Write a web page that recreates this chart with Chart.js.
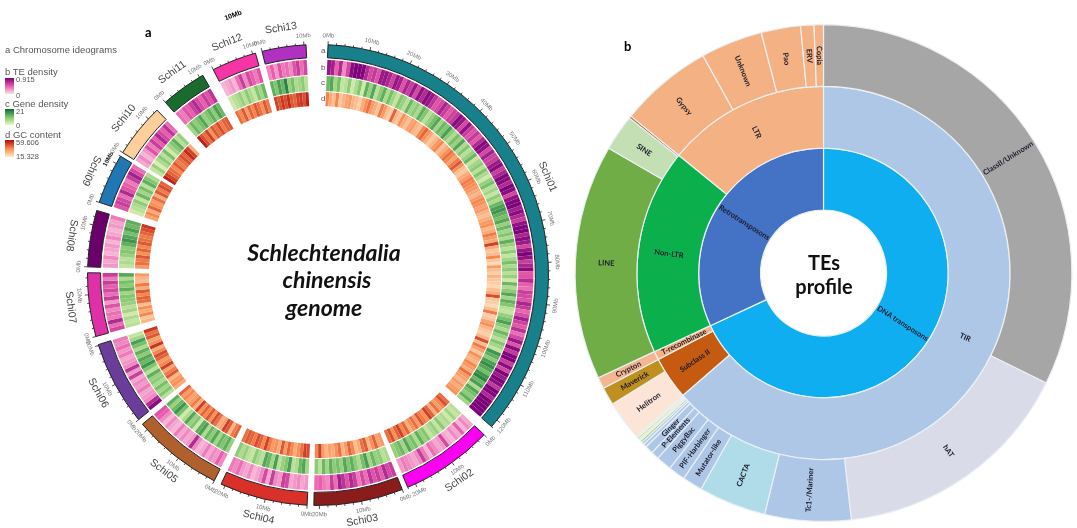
<!DOCTYPE html>
<html>
<head>
<meta charset="utf-8">
<title>Schlechtendalia chinensis genome</title>
<script src="https://cdn.jsdelivr.net/npm/chart.js@4"></script>
<style>
  html, body { margin: 0; background: #fff; overflow: hidden; }
  #page { position: relative; width: 1077px; height: 528px; font-family: "Liberation Sans", sans-serif; }
  canvas { position: absolute; top: 0; filter: blur(0.35px); }
  .t { position: absolute; white-space: nowrap; line-height: 1; transform: translateY(-50%); }
  .leg { font-size: 9.5px; color: #555; }
  .val { font-size: 7.5px; color: #555; }
  .title { font-family: Lato, sans-serif; font-weight: 700; color: #111; text-align: center; transform: translate(-50%, -50%); }
  .sw { position: absolute; left: 5px; width: 9px; }
</style>
</head>
<body>
<div id="page">
  <canvas id="circos" width="575" height="528" style="left:0"></canvas>
  <canvas id="sunburst" width="522" height="528" style="left:555px"></canvas>

  <div class="t leg" style="left:5px;top:50px">a Chromosome ideograms</div>
  <div class="t leg" style="left:5px;top:72px">b TE density</div>
  <div class="sw" style="top:78px;height:16px;background:linear-gradient(#7a0078,#e85cab,#fde0ea)"></div>
  <div class="t val" style="left:16px;top:80px">0.915</div>
  <div class="t val" style="left:16px;top:96px">0</div>
  <div class="t leg" style="left:5px;top:104px">c Gene density</div>
  <div class="sw" style="top:109px;height:16px;background:linear-gradient(#0a6b33,#7cc46c,#f0f8c0)"></div>
  <div class="t val" style="left:16px;top:112px">21</div>
  <div class="t val" style="left:16px;top:126px">0</div>
  <div class="t leg" style="left:5px;top:135px">d GC content</div>
  <div class="sw" style="top:140px;height:17px;background:linear-gradient(#b00a0a,#f88a50,#ffeccd)"></div>
  <div class="t val" style="left:16px;top:143px">59.606</div>
  <div class="t val" style="left:16px;top:157px">15.328</div>

  <div class="t" style="left:145px;top:32px;font:700 13px Lato">a</div>
  <div class="t" style="left:624px;top:46px;font:700 13px Lato">b</div>
  <div class="t" style="left:224px;top:15px;font:700 7px 'Liberation Sans';transform:translateY(-50%) rotate(-20deg)">10Mb</div>

  <div class="t" style="left:321px;top:51px;font-size:8px;color:#555">a</div>
  <div class="t" style="left:321px;top:68px;font-size:8px;color:#555">b</div>
  <div class="t" style="left:321px;top:83px;font-size:8px;color:#555">c</div>
  <div class="t" style="left:321px;top:99px;font-size:8px;color:#555">d</div>

  <div class="t title" style="left:324px;top:252px;font-size:23px;font-style:italic">Schlechtendalia</div>
  <div class="t title" style="left:327px;top:279px;font-size:23px;font-style:italic">chinensis</div>
  <div class="t title" style="left:324px;top:307px;font-size:23px;font-style:italic">genome</div>
  <div class="t title" style="left:824px;top:262px;font-size:20px">TEs</div>
  <div class="t title" style="left:824px;top:286px;font-size:20px">profile</div>
</div>

<script>
// left panel: chromosome sizes and the space behind each one, in Mb
const chromNames = ['Schi01','Schi02','Schi03','Schi04','Schi05','Schi06','Schi07','Schi08','Schi09','Schi10','Schi11','Schi12','Schi13'];
const chromSizes = [122,22,21.3,21,21.7,20.2,15.2,13.5,12,12.9,10.9,10.7,10.5];
const chromGaps = [2.6,1.4,1.6,1.8,1.4,2,1.4,2,1,2.7,2.8,1.6,5.2];
const chromColors = ['#17808a','#fb00f0','#8b1c1c','#d9302a','#b0602c','#6a3d9a','#e030a8','#6a006a','#1f78b4','#fdcf9b','#1a6b2e','#f535a5','#b030c0'];

// TE density per bin
const te01 = [.8,.75,.45,.7,.3,.55,.85,.9,.9,.88,.7,.55,.62,.5,.78,.8,.72,.58,.8,.75,.5,.72,.6,.78,.55,.82,.7,.85,.8,.65,.5,.55,.72,.6,.48,.58,.62,.85,.8,.55,.82,.6,.5,.62,.48,.7,.86,.82,.55,.75,.58,.6,.78,.85,.6,.72,.88,.85,.7,.9,.85,.55,.82,.88,.9,.75,.85,.7,.6,.82,.88,.9,.72,.85,.78,.55,.8,.9,.82,.6,.72,.85,.48,.5,.68,.45,.4,.6,.55,.5,.72,.62,.42,.52,.75,.58,.48,.66,.4,.55,.78,.5,.85,.62,.88,.9,.6,.85,.55,.9,.78,.9,.85,.62,.9,.88,.7,.91,.91,.91,.91,.9];
const te02 = [.2,.3,.15,.45,.2,.3,.15,.2,.55,.25,.2,.3,.4,.15,.35,.6,.3,.2,.25,.3,.35,.25];
const te03 = [.6,.55,.7,.45,.6,.5,.65,.4,.55,.35,.6,.7,.5,.65,.75,.4,.6,.3,.35,.45,.4];
const te04 = [.25,.2,.3,.25,.2,.55,.6,.25,.3,.6,.2,.55,.3,.2,.15,.3,.2,.25,.4,.3,.35];
const te05 = [.3,.45,.25,.3,.2,.35,.2,.15,.3,.7,.25,.2,.3,.2,.35,.15,.2,.3,.15,.3,.45,.5];
const te06 = [.85,.7,.3,.25,.2,.35,.25,.3,.2,.6,.25,.65,.3,.25,.2,.35,.25,.4,.3,.35];
const te07 = [.55,.4,.7,.35,.4,.3,.5,.25,.6,.4,.55,.45,.6,.35,.6];
const te08 = [.25,.2,.3,.15,.2,.25,.15,.3,.2,.15,.25,.2,.35];
const te09 = [.5,.6,.55,.4,.7,.5,.45,.35,.6,.75,.55,.4];
const te10 = [.2,.3,.15,.25,.5,.35,.6,.45,.7,.55,.45,.65,.4];
const te11 = [.4,.35,.5,.45,.6,.7,.55,.45,.6,.5,.65];
const te12 = [.15,.2,.25,.15,.4,.6,.3,.55,.45,.35,.5];
const te13 = [.3,.45,.25,.5,.35,.4,.3,.5,.6,.4,.55];

// gene density per bin
const gene01 = [12,14,7,11,4,5,9,3,6,10,3,13,8,14,5,9,13,6,11,7,4,10,8,5,12,7,9,6,13,10,5,8,11,14,7,12,10,15,9,6,11,8,14,6,10,5,8,12,4,7,9,5,10,6,3,8,11,5,7,4,9,6,12,15,16,13,11,14,8,12,7,10,6,13,8,5,9,4,7,11,6,9,5,8,3,12,6,9,14,7,13,10,5,4,8,11,15,9,6,12,8,5,10,7,4,16,13,9,15,17,14,11,16,18,12,15,6,14,11,9,13,7];
const gene02 = [5,4,7,3,6,5,9,4,8,6,4,10,8,13,6,11,9,14,7,12,10,8];
const gene03 = [6,5,9,8,12,7,15,11,6,9,13,10,14,8,11,9,13,7,12,5,9];
const gene04 = [7,14,12,6,5,15,10,8,5,15,7,12,14,5,6,9,4,5,8,6,9];
const gene05 = [8,13,10,12,7,14,9,12,6,15,13,3,10,8,14,6,3,11,16,12,8,13];
const gene06 = [5,10,7,11,6,9,8,13,5,10,16,12,14,9,13,6,11,15,7,4];
const gene07 = [5,4,6,3,7,5,8,9,10,7,13,9,11,6,14];
const gene08 = [4,6,5,8,10,9,13,16,14,11,15,12,13];
const gene09 = [3,5,6,9,4,12,7,11,5,13,10,6];
const gene10 = [4,8,2,6,9,5,11,3,7,10,13,5,8];
const gene11 = [7,12,9,11,14,8,10,13,9,15,12];
const gene12 = [3,5,6,8,5,9,6,4,10,7,12];
const gene13 = [13,10,15,12,18,8,11,6,7,9,5];

// GC content per bin
const gc01 = [38,30,26,38,24,28,32,34,28,26,22,30,36,42,34,30,24,40,34,26,22,44,28,24,36,30,26,32,34,28,26,38,44,36,30,24,28,34,38,26,30,36,42,38,32,40,46,36,26,24,30,34,40,38,36,34,30,28,34,38,36,32,34,28,26,30,34,36,28,30,40,34,30,50,30,24,26,38,24,20,34,26,22,28,24,22,20,26,30,48,24,22,20,26,40,22,24,32,36,28,24,22,28,48,26,40,32,24,36,30,28,38,34,30,42,34,32,28,34,30,34,36];
const gc02 = [42,48,38,34,42,30,44,50,36,40,46,34,42,36,30,44,38,50,44,36,48,42];
const gc03 = [34,32,44,36,28,46,42,30,26,38,44,34,28,42,36,30,32,28,34,50,38];
const gc04 = [48,50,42,36,30,38,44,34,46,30,36,34,40,50,38,44,48,40,44,46,42];
const gc05 = [44,40,28,46,50,32,30,42,48,36,46,38,44,36,50,30,40,34,32,38,34,44];
const gc06 = [30,36,34,28,46,40,32,50,38,34,44,48,38,30,52,36,32,46,42,52];
const gc07 = [28,24,38,30,36,26,42,44,38,46,30,40,26,28,34];
const gc08 = [34,42,40,46,36,44,38,46,42,40,44,48,52];
const gc09 = [32,38,30,44,36,34,42,30,46,40,48,44];
const gc10 = [56,50,44,42,38,46,40,42,48,44,54,50,30];
const gc11 = [56,48,42,50,36,46,42,48,40,44,46];
const gc12 = [42,38,46,34,44,38,46,42,36,46,40];
const gc13 = [50,46,52,48,54,46,44,50,52,48,56];

const teBins = [te01,te02,te03,te04,te05,te06,te07,te08,te09,te10,te11,te12,te13];
const geneBins = [gene01,gene02,gene03,gene04,gene05,gene06,gene07,gene08,gene09,gene10,gene11,gene12,gene13];
const gcBins = [gc01,gc02,gc03,gc04,gc05,gc06,gc07,gc08,gc09,gc10,gc11,gc12,gc13];

// right panel, shares in %, ring by ring from the inside out
const classLabels = ['DNA transposons','Retrotransposons'];
const classValues = [68.06,31.94];
const classColors = ['#0eaef0','#4472c4'];

const orderLabels = ['TIR','Subclass II','T-recombinase','Non-LTR','LTR'];
const orderValues = [63.6,3.72,.75,17.8,14.13];
const orderColors = ['#afc7e6','#c55a11','#f4b183','#0bb04d','#f4b183'];

const familyLabels = ['ClassII/Unknown','hAT','Tc1-/Mariner','CACTA','Mutator-like','PIF-Harbinger','PiggyBac','P-Elements','Ginger','','','','','','','Helitron','Maverick','Crypton','LINE','SINE','','Gypsy','Unknown','Pao','ERV','Copia'];
const familyValues = [32.3,15.9,5.6,4.4,1.3,1.1,1,.53,.53,.22,.17,.14,.14,.11,.14,2.56,1.17,.75,15.3,2.36,.14,6.06,4.03,2.56,.86,.61];
const familyColors = ['#a6a6a6','#d9dbe8','#afc7e6','#b0dbe8','#afc7e6','#afc7e6','#afc7e6','#afc7e6','#afc7e6','#afc7e6','#afc7e6','#9bc96b','#f4eeb0','#9bc96b','#f4eeb0','#fce4d6','#bf9020','#f4b591','#70ad47','#c5dfb4','#a0623a','#f4b183','#f4b183','#f4b183','#f4b183','#f4b183'];

const mix = (stops, t) => {
  const p = Math.min(Math.max(t, 0), 1) * (stops.length - 1);
  const i = Math.min(Math.floor(p), stops.length - 2);
  const f = p - i;
  const c = [0,1,2].map(k => Math.round(stops[i][k] + (stops[i + 1][k] - stops[i][k]) * f));
  return `rgb(${c[0]},${c[1]},${c[2]})`;
};
const teColor = v => mix([[253,224,234],[232,92,171],[122,0,120]], v / 0.915);
const geneColor = v => mix([[240,248,192],[124,196,108],[10,107,51]], v / 21);
const gcColor = v => mix([[255,236,205],[248,138,80],[176,10,10]], (v - 15.328) / (59.606 - 15.328));

// one ring: bins of every chromosome with a see-through gap behind each
const trackDataset = (bins, colorOf, weight) => {
  const data = [], colors = [];
  bins.forEach((vals, c) => {
    vals.forEach(v => {
      data.push(chromSizes[c] / vals.length);
      colors.push(colorOf(v));
    });
    data.push(chromGaps[c]);
    colors.push('rgba(0,0,0,0)');
  });
  return { data, backgroundColor: colors, borderWidth: 0, weight };
};
const spacer = weight => ({ data: [1], backgroundColor: 'rgba(0,0,0,0)', borderWidth: 0, weight });

const ideogramData = [], ideogramColors = [], ideogramBorders = [];
chromSizes.forEach((size, c) => {
  ideogramData.push(size, chromGaps[c]);
  ideogramColors.push(chromColors[c], 'rgba(0,0,0,0)');
  ideogramBorders.push(1, 0);
});

const tangent = (deg, flipFrom, flipTo) => {
  const a = ((deg % 360) + 360) % 360;
  return (a > flipFrom && a < flipTo) ? a - 180 : a;
};

const ideogramTicks = {
  id: 'ideogramTicks',
  afterDatasetsDraw(chart) {
    const ctx = chart.ctx;
    const arcs = chart.getDatasetMeta(0).data;
    ctx.save();
    chromSizes.forEach((size, c) => {
      const arc = arcs[c * 2];
      const r = arc.outerRadius;
      for (let mb = 0; mb <= size; mb += 2) {
        const ang = arc.startAngle + (mb / size) * (arc.endAngle - arc.startAngle);
        const major = mb % 10 === 0;
        ctx.strokeStyle = '#222';
        ctx.lineWidth = 0.8;
        ctx.beginPath();
        ctx.moveTo(arc.x + Math.cos(ang) * r, arc.y + Math.sin(ang) * r);
        ctx.lineTo(arc.x + Math.cos(ang) * (r + (major ? 3.5 : 2)), arc.y + Math.sin(ang) * (r + (major ? 3.5 : 2)));
        ctx.stroke();
        if (major) {
          const deg = ang * 180 / Math.PI + 90;
          const boldOne = chromNames[c] === 'Schi09' && mb === 10;
          ctx.save();
          ctx.translate(arc.x + Math.cos(ang) * (r + 9), arc.y + Math.sin(ang) * (r + 9));
          ctx.rotate(tangent(deg, 90, 270) * Math.PI / 180);
          ctx.font = (boldOne ? 'bold ' : '') + '6px "Liberation Sans"';
          ctx.fillStyle = boldOne ? '#111' : '#777';
          ctx.textAlign = 'center';
          ctx.textBaseline = 'middle';
          ctx.fillText(mb + 'Mb', 0, 0);
          ctx.restore();
        }
      }
      const mid = (arc.startAngle + arc.endAngle) / 2;
      const deg = mid * 180 / Math.PI + 90;
      ctx.save();
      ctx.translate(arc.x + Math.cos(mid) * (r + 19), arc.y + Math.sin(mid) * (r + 19));
      ctx.rotate(tangent(deg, 90, 300) * Math.PI / 180);
      ctx.font = '10.5px "Liberation Sans"';
      ctx.fillStyle = '#444';
      ctx.textAlign = 'center';
      ctx.textBaseline = 'middle';
      ctx.fillText(chromNames[c], 0, 0);
      ctx.restore();
    });
    ctx.restore();
  }
};

new Chart(document.getElementById('circos'), {
  type: 'doughnut',
  data: {
    datasets: [
      { data: ideogramData, backgroundColor: ideogramColors, borderColor: '#222', borderWidth: ideogramBorders, weight: 13 },
      spacer(2),
      trackDataset(teBins, teColor, 15),
      spacer(1),
      trackDataset(geneBins, geneColor, 15),
      spacer(1),
      trackDataset(gcBins, gcColor, 14)
    ]
  },
  options: {
    responsive: false,
    animation: false,
    rotation: 2.5,
    cutout: 169,
    layout: { padding: { left: 87, right: 26, top: 44, bottom: 22 } },
    plugins: { legend: { display: false }, tooltip: { enabled: false } }
  },
  plugins: [ideogramTicks]
});

// names written along the radius of each slice
const sliceLabels = {
  id: 'sliceLabels',
  afterDatasetsDraw(chart) {
    const ctx = chart.ctx;
    ctx.save();
    ctx.font = 'bold 7.5px Lato';
    ctx.fillStyle = '#1a1a2a';
    ctx.textAlign = 'center';
    ctx.textBaseline = 'middle';
    chart.data.datasets.forEach((ds, d) => {
      chart.getDatasetMeta(d).data.forEach((arc, i) => {
        if (!ds.labels[i]) return;
        const mid = (arc.startAngle + arc.endAngle) / 2;
        const r = (arc.innerRadius + arc.outerRadius) / 2;
        let deg = mid * 180 / Math.PI + 90;
        deg = ((deg % 360) + 360) % 360;
        ctx.save();
        ctx.translate(arc.x + Math.cos(mid) * r, arc.y + Math.sin(mid) * r);
        ctx.rotate((deg < 180 ? deg - 90 : deg + 90) * Math.PI / 180);
        ctx.fillText(ds.labels[i], 0, 0);
        ctx.restore();
      });
    });
    ctx.restore();
  }
};

new Chart(document.getElementById('sunburst'), {
  type: 'doughnut',
  data: {
    datasets: [
      { data: familyValues, labels: familyLabels, backgroundColor: familyColors },
      { data: orderValues, labels: orderLabels, backgroundColor: orderColors },
      { data: classValues, labels: classLabels, backgroundColor: classColors }
    ]
  },
  options: {
    responsive: false,
    animation: false,
    cutout: 63,
    borderColor: '#eaf0f4',
    borderWidth: 1.2,
    layout: { padding: { left: 19.5, right: 4.5, top: 24, bottom: 6 } },
    plugins: { legend: { display: false }, tooltip: { enabled: false } }
  },
  plugins: [sliceLabels]
});
</script>
</body>
</html>
